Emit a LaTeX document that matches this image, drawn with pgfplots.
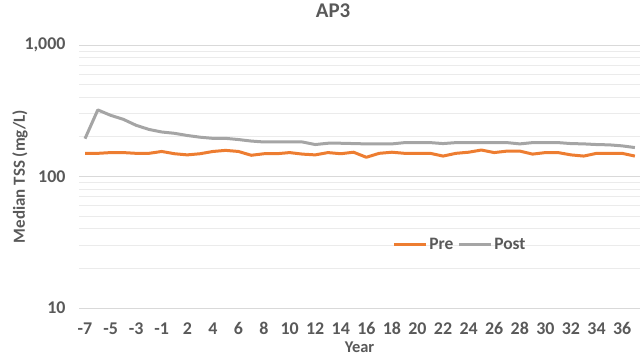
\documentclass[border=0pt]{standalone}
\usepackage{pgfplots}
\pgfplotsset{compat=1.18}
\usepackage{fontspec}
\setmainfont{Carlito}
\definecolor{txt}{HTML}{595959}
\definecolor{pre}{HTML}{ED7D31}
\definecolor{post}{HTML}{A5A5A5}
\definecolor{gmaj}{HTML}{D9D9D9}
\definecolor{gmin}{HTML}{EBEBEB}
\pgfplotstableread{
i pre post
0 150 194
1 150 321
2 152 292
3 152 272
4 150 245
5 150 228
6 155 218
7 149 213
8 146 205
9 149 199
10 155 195
11 158 195
12 155 191
13 145 186
14 149 183
15 149 183
16 152 183
17 148 183
18 146 175
19 152 179
20 149 179
21 153 178
22 140 177
23 150 177
24 153 177
25 150 181
26 150 181
27 150 181
28 143 178
29 150 181
30 153 181
31 159 181
32 152 181
33 156 181
34 156 177
35 148 181
36 152 181
37 152 181
38 146 178
39 143 177
40 150 175
41 150 174
42 150 171
43 143 166
}\datatable
\begin{document}
\begin{tikzpicture}
\useasboundingbox (0,0) rectangle (640bp,357bp);
\begin{axis}[
  at={(79bp,49bp)}, anchor=south west,
  scale only axis, width=561bp, height=263bp,
  ymode=log, ymin=10, ymax=1000,
  xmin=-0.47, xmax=43.4,
  xtick={0,2,...,42},
  xticklabels={-7,-5,-3,-1,2,4,6,8,10,12,14,16,18,20,22,24,26,28,30,32,34,36},
  ytick={10,100,1000},
  yticklabels={10,100,{1,000}},
  minor ytick={20,30,40,50,60,70,80,90,200,300,400,500,600,700,800,900},
  ymajorgrids, yminorgrids,
  major grid style={gmaj, line width=0.9bp},
  minor grid style={gmin, line width=0.9bp},
  axis line style={draw=none},
  tick style={draw=none},
  ticklabel style={font=\fontsize{18}{20}\selectfont\bfseries, text=txt},
  xticklabel style={yshift=-11bp},
  yticklabel style={xshift=-10bp},
  title={AP3},
  title style={at={(axis description cs:0.453,1)}, anchor=center, yshift=28bp, font=\fontsize{21}{24}\selectfont\bfseries, text=txt},
  xlabel={Year},
  xlabel style={at={(axis description cs:0.5,0)}, anchor=center, yshift=-39bp, font=\fontsize{16.5}{19}\selectfont\bfseries, text=txt},
  ylabel={Median TSS (mg/L)},
  ylabel style={at={(axis description cs:-0.105,0.5)}, anchor=center, font=\fontsize{17}{20}\selectfont\bfseries, text=txt},
  legend columns=2,
  legend style={at={(axis description cs:0.679,0.24)}, anchor=center, draw=none, fill=none,
    font=\fontsize{17.5}{20}\selectfont\bfseries, text=txt,
    /tikz/every even column/.append style={column sep=2bp}},
  legend image code/.code={\draw[#1, line width=3bp] (0bp,0bp) -- (32bp,0bp);},
]
\addplot[pre, line width=3bp, line join=round] table[x=i, y=pre] {\datatable};
\addlegendentry{Pre}
\addplot[post, line width=3bp, line join=round] table[x=i, y=post] {\datatable};
\addlegendentry{Post}
\end{axis}
\end{tikzpicture}
\end{document}
